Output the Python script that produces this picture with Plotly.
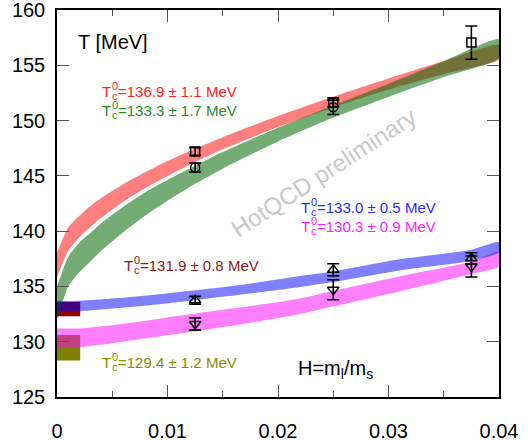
import plotly.graph_objects as go

# ---------------- data ----------------
H_RG = [0, 0.001, 0.002, 0.003, 0.004, 0.006, 0.008, 0.01, 0.0125, 0.015, 0.02, 0.025, 0.03, 0.035, 0.04]
red_hi = [138.0, 140.31, 141.37, 142.26, 143.0, 144.25, 145.34, 146.34, 147.45, 148.5, 150.41, 152.15, 153.8, 155.38, 156.85]
red_lo = [135.8, 138.21, 139.43, 140.36, 141.2, 142.65, 143.9, 144.98, 146.25, 147.4, 149.41, 151.19, 152.8, 154.22, 155.55]
green_hi = [135.0, 137.65, 138.95, 139.83, 140.72, 142.21, 143.51, 144.64, 145.92, 147.15, 149.35, 151.37, 153.34, 155.37, 157.35]
green_lo = [132.0, 134.95, 136.25, 137.23, 138.22, 139.91, 141.41, 142.74, 144.28, 145.65, 148.11, 150.27, 152.14, 153.93, 155.65]

H_BM = [0, 0.002, 0.005, 0.0084, 0.0125, 0.0174, 0.022, 0.025, 0.031, 0.0374, 0.04]
blue_hi = [133.7, 133.7, 133.9, 134.2, 134.65, 135.25, 135.95, 136.35, 137.45, 138.3, 139.0]
blue_lo = [132.75, 132.75, 133.0, 133.3, 133.75, 134.35, 134.95, 135.4, 136.45, 137.3, 138.1]
mag_hi = [131.2, 131.2, 131.5, 131.95, 132.55, 133.2, 133.9, 134.6, 135.9, 137.2, 138.1]
mag_lo = [129.45, 129.5, 129.85, 130.35, 130.95, 131.7, 132.5, 133.2, 134.55, 136.1, 136.8]

BOX_X = [0, 0.0021]
darkred_box = [132.3, 133.6]
olive_box = [128.3, 130.6]

H_SQ = [0.0125, 0.025, 0.0375]
T_SQ = [147.2, 151.65, 157.05]
E_SQ = [0.35, 0.4, 1.5]
H_CI = [0.0125, 0.025]
T_CI = [145.75, 151.2]
E_CI = [0.4, 0.65]
H_UP = [0.0125, 0.025, 0.0375]
T_UP = [133.75, 136.5, 137.55]
E_UP = [0.35, 0.55, 0.5]
H_DN = [0.0125, 0.025, 0.0375]
T_DN = [131.6, 134.7, 136.8]
E_DN = [0.55, 0.9, 0.95]

X_TICKS = [0, 0.01, 0.02, 0.03, 0.04]
X_LABELS = ["0", "0.01", "0.02", "0.03", "0.04"]
Y_TICKS = [125, 130, 135, 140, 145, 150, 155, 160]
Y_LABELS = ["125", "130", "135", "140", "145", "150", "155", "160"]

LABELS = [
    # (x, y, value text, color)
    (0.00388, 152.67, "=136.9 ± 1.1 MeV", "#ff2020"),
    (0.00388, 150.95, "=133.3 ± 1.7 MeV", "#2a8a2a"),
    (0.0219, 142.17, "=133.0 ± 0.5 MeV", "#2a2aff"),
    (0.0219, 140.45, "=130.3 ± 0.9 MeV", "#ff20ff"),
    (0.00587, 136.9, "=131.9 ± 0.8 MeV", "#8b1a1a"),
    (0.00388, 128.15, "=129.4 ± 1.2 MeV", "#8b8b00"),
]

FONT = "Liberation Sans, Arial, sans-serif"

fig = go.Figure()


def band(x, lo, hi, color):
    fig.add_trace(go.Scatter(
        x=list(x) + list(x)[::-1], y=list(hi) + list(lo)[::-1],
        fill="toself", fillcolor=color, mode="lines",
        line=dict(width=0, shape="spline", smoothing=0.6),
        hoverinfo="skip", showlegend=False))


def box(x, yr, color):
    fig.add_trace(go.Scatter(
        x=[x[0], x[1], x[1], x[0], x[0]], y=[yr[0], yr[0], yr[1], yr[1], yr[0]],
        fill="toself", fillcolor=color, mode="lines", line=dict(width=0),
        hoverinfo="skip", showlegend=False))


box(BOX_X, olive_box, "#808000")
box(BOX_X, darkred_box, "#8b0000")
band(H_RG, red_lo, red_hi, "rgba(255,0,0,0.5)")
band(H_RG, green_lo, green_hi, "rgba(0,105,0,0.55)")
band(H_BM, mag_lo, mag_hi, "rgba(255,0,255,0.5)")
band(H_BM, blue_lo, blue_hi, "rgba(0,0,255,0.5)")


def pts(x, y, e, sym, size):
    fig.add_trace(go.Scatter(
        x=x, y=y, mode="markers",
        marker=dict(symbol=sym, size=size, color="black", line=dict(width=1.5, color="black")),
        error_y=dict(type="data", array=e, visible=True, color="black", thickness=1.6, width=6),
        showlegend=False))


pts(H_SQ, T_SQ, E_SQ, "square-open", 9)
pts(H_CI, T_CI, E_CI, "circle-open", 9)
pts(H_UP, T_UP, E_UP, "triangle-up-open", 10)
pts(H_DN, T_DN, E_DN, "triangle-down-open", 10)

ann = []
for (x, y, txt, col) in LABELS:
    ann.append(dict(x=x, y=y, xref="x", yref="y", text="T", showarrow=False,
                    xanchor="left", yanchor="middle", font=dict(size=15, color=col, family=FONT)))
    ann.append(dict(x=x, y=y, xref="x", yref="y", text="0", showarrow=False, xshift=10, yshift=5,
                    xanchor="left", yanchor="middle", font=dict(size=11, color=col, family=FONT)))
    ann.append(dict(x=x, y=y, xref="x", yref="y", text="c", showarrow=False, xshift=10, yshift=-5,
                    xanchor="left", yanchor="middle", font=dict(size=11, color=col, family=FONT)))
    ann.append(dict(x=x, y=y, xref="x", yref="y", text=txt, showarrow=False, xshift=16,
                    xanchor="left", yanchor="middle", font=dict(size=15, color=col, family=FONT)))

ann.append(dict(x=0.0017, y=157.1, xref="x", yref="y", text="T [MeV]", showarrow=False,
                xanchor="left", yanchor="middle", font=dict(size=20, color="black", family=FONT)))
ann.append(dict(x=0.0216, y=127.5, xref="x", yref="y", text="H=m<sub>l</sub>/m<sub>s</sub>", showarrow=False,
                xanchor="left", yanchor="middle", font=dict(size=20, color="black", family=FONT)))
ann.append(dict(x=0.02415, y=145.34, xref="x", yref="y", text="HotQCD preliminary", showarrow=False,
                textangle=-33, xanchor="center", yanchor="middle",
                font=dict(size=24, color="#c8c8c8", family=FONT)))

axis_common = dict(showgrid=False, zeroline=False, showline=True, linecolor="black", linewidth=1.5,
                   mirror="ticks", ticks="inside", ticklen=12, tickwidth=1.3, tickcolor="#555555",
                   automargin=False, ticklabeloverflow="allow",
                   tickfont=dict(size=20, color="black", family=FONT))

fig.update_layout(
    width=528, height=440,
    margin=dict(l=57, r=29, t=10, b=43),
    paper_bgcolor="white", plot_bgcolor="white",
    xaxis=dict(range=[0, 0.04], tickvals=X_TICKS, ticktext=X_LABELS, ticklabelstandoff=15,
               minor=dict(dtick=0.005, ticks="inside", ticklen=6, tickwidth=1.3, tickcolor="#555555"),
               **axis_common),
    yaxis=dict(range=[125, 160], tickvals=Y_TICKS, ticktext=Y_LABELS, ticklabelstandoff=6,
               **axis_common),
    annotations=ann,
)

fig.write_html("out.html")
